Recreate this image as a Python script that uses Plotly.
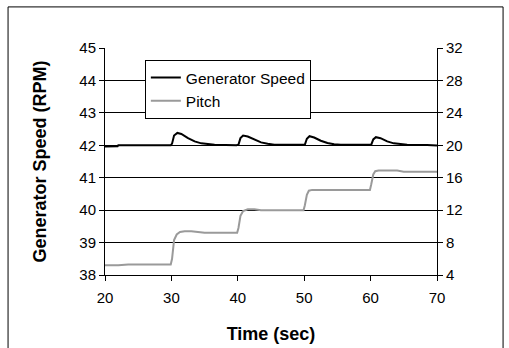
import plotly.graph_objects as go

gen_t = [20, 21.9, 22, 29.9, 30.1, 30.4, 30.9, 31.5, 32.5, 33.5, 34.5, 35.5, 36.5,
         39.8, 40.1, 40.4, 40.8, 41.5, 42.5, 43.5, 44.5, 45.5, 46.5,
         49.8, 50.1, 50.4, 50.8, 51.5, 52.5, 53.5, 54.5, 55.5, 56.5,
         59.8, 60.1, 60.4, 60.8, 61.5, 62.5, 63.5, 64.5, 65.5, 68.5, 70]
gen_v = [41.96, 41.97, 42.0, 42.0, 42.05, 42.3, 42.38, 42.35, 42.22, 42.12, 42.06, 42.03, 42.02,
         42.0, 42.02, 42.22, 42.3, 42.27, 42.17, 42.09, 42.05, 42.02, 42.02,
         42.0, 42.02, 42.2, 42.28, 42.24, 42.14, 42.07, 42.03, 42.02, 42.02,
         42.0, 42.02, 42.18, 42.25, 42.22, 42.12, 42.06, 42.03, 42.02, 42.01, 41.99]

pitch_t = [20, 22, 23.5, 29.9, 30.1, 30.4, 30.8, 31.3, 32, 33, 34, 35,
           39.9, 40.1, 40.4, 40.8, 41.5, 42.5, 43.5,
           49.9, 50.1, 50.4, 50.7, 51.2, 52,
           59.9, 60.1, 60.4, 60.7, 61.2, 62, 64, 65, 70]
pitch_v = [5.2, 5.2, 5.3, 5.3, 6.0, 8.3, 9.0, 9.3, 9.4, 9.4, 9.3, 9.2,
           9.2, 9.8, 11.3, 11.9, 12.1, 12.1, 12.0,
           12.0, 12.6, 13.9, 14.4, 14.5, 14.5,
           14.5, 15.2, 16.4, 16.8, 16.9, 16.9, 16.9, 16.75, 16.75]

x_ticks = [20, 30, 40, 50, 60, 70]
y_ticks = [38, 39, 40, 41, 42, 43, 44, 45]
y2_ticks = [4, 8, 12, 16, 20, 24, 28, 32]

FONT = "Liberation Sans, Arial, sans-serif"

fig = go.Figure()
fig.add_trace(go.Scatter(x=gen_t, y=gen_v, mode="lines", name="Generator Speed",
                         line=dict(color="black", width=2)))
fig.add_trace(go.Scatter(x=pitch_t, y=pitch_v, mode="lines", name="Pitch", yaxis="y2",
                         line=dict(color="#9a9a9a", width=2)))

fig.update_layout(
    width=509, height=348,
    margin=dict(l=105, r=72, t=48, b=73),
    paper_bgcolor="white", plot_bgcolor="white",
    font=dict(family=FONT, size=15, color="black"),
    showlegend=True,
    legend=dict(x=0.12, y=0.947, xanchor="left", yanchor="top",
                bordercolor="black", borderwidth=1, bgcolor="white",
                font=dict(size=15.5), tracegroupgap=0,
                itemwidth=30),
    xaxis=dict(range=[20, 70], tickvals=x_ticks, showline=True, linecolor="black",
               linewidth=1, ticks="outside", ticklen=5, tickcolor="black",
               ticklabelstandoff=4, automargin=False,
               showgrid=False, zeroline=False,
               title=dict(text="<b>Time (sec)</b>", font=dict(size=18), standoff=22)),
    yaxis=dict(range=[38, 45], tickvals=y_ticks, showline=True, linecolor="black",
               linewidth=1, ticks="outside", ticklen=5, tickcolor="black",
               showgrid=False, zeroline=False, automargin=False,
               minor=dict(tickvals=[39, 40, 41, 42, 43, 44], showgrid=True,
                          gridcolor="black", gridwidth=1, ticks=""),
               title=dict(text="<b>Generator Speed (RPM)</b>", font=dict(size=18), standoff=28)),
    yaxis2=dict(range=[4, 32], tickvals=y2_ticks, overlaying="y", side="right",
                showline=True, linecolor="black", linewidth=1, ticks="outside",
                ticklen=5, tickcolor="black", showgrid=False, zeroline=False,
                automargin=False),
    shapes=[dict(type="rect", xref="paper", yref="paper",
                 x0=-0.292, x1=1.199, y0=-0.4, y1=1.181,
                 line=dict(color="black", width=1), fillcolor="rgba(0,0,0,0)",
                 layer="below")],
)

fig.write_html("out.html")
